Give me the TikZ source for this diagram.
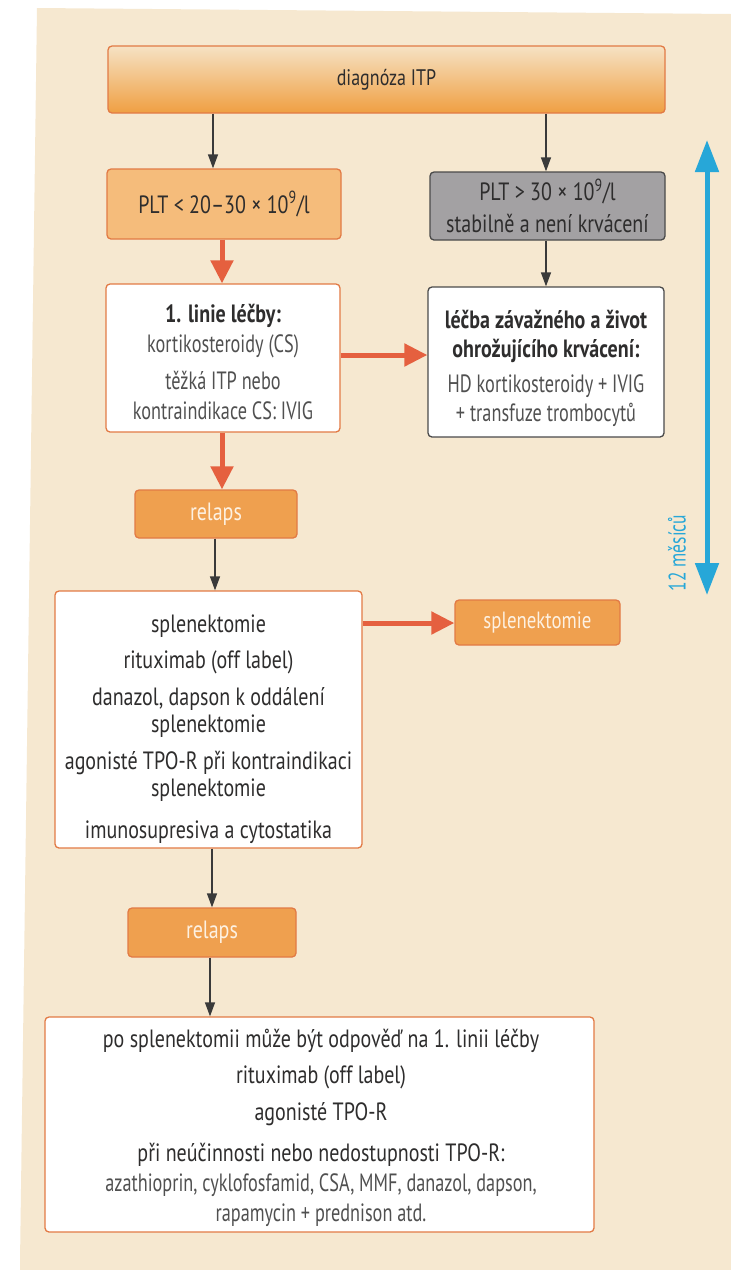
\documentclass[tikz,border=0pt]{standalone}
\usepackage{fontspec}
\setmainfont{PT Sans}[FakeStretch=0.8]
\newfontfamily\lightfont{PT Sans}[FakeStretch=0.73]
\usetikzlibrary{arrows.meta}
\definecolor{bg}{HTML}{F6E8D0}
\definecolor{orfill}{HTML}{EFA04F}
\definecolor{orborder}{HTML}{E27A45}
\definecolor{pltfill}{HTML}{F5BC7B}
\definecolor{grayfill}{HTML}{A3A1A3}
\definecolor{grayborder}{HTML}{4A4A4A}
\definecolor{redarr}{HTML}{E5603F}
\definecolor{arrgray}{HTML}{3A3A3A}
\definecolor{txt}{HTML}{2E2D2D}
\definecolor{lt}{HTML}{505050}
\definecolor{wtxt}{HTML}{FDF1E2}
\definecolor{blu}{HTML}{27A7D8}
\definecolor{gradtop}{HTML}{F6E2C4}
\definecolor{gradbot}{HTML}{EF9F42}
\newcommand{\lt}[1]{{\lightfont\color{lt}#1}}
\tikzset{
  box/.style={rectangle, rounded corners=4pt, line width=1.3pt, align=center, inner sep=0pt, text=txt,
    font=\fontsize{25}{30}\selectfont},
  txtnode/.style={align=center, inner sep=0pt, text=txt, font=\fontsize{25}{30}\selectfont},
  orbox/.style={box, fill=orfill, draw=orborder, text=wtxt},
  whbox/.style={box, fill=white, draw=orborder},
  grbox/.style={box, fill=grayfill, draw=grayborder},
  wgbox/.style={box, fill=white, draw=grayborder},
  plbox/.style={box, fill=pltfill, draw=orborder},
  grayarrow/.style={draw=arrgray, line width=1.3pt, -{Triangle[width=10pt,length=14pt]}},
  redarrow/.style={draw=redarr, line width=5pt, -{Triangle[width=22pt,length=23pt]}},
  bluearrow/.style={draw=blu, line width=5pt, {Triangle[width=23pt,length=32pt]}-{Triangle[width=23pt,length=32pt]}}
}
\begin{document}
\begin{tikzpicture}[x=1pt,y=-1pt]
\useasboundingbox (0,0) rectangle (731,1270);
\fill[white] (0,0) rectangle (731,1270);
\fill[bg] (37,8) -- (731,14) -- (731,1270) -- (20,1270) -- (20,1263) -- cycle;

% top
\node[box, top color=gradtop, bottom color=gradbot, draw=orborder, minimum width=557pt, minimum height=67pt,
  font=\fontsize{22.5}{27}\selectfont] (diag) at (386.5,79.5) {diagnóza ITP};

% PLT boxes
\node[plbox, minimum width=234pt, minimum height=70pt] (low) at (224,204) {PLT < 20–30 × 10\textsuperscript{9}/l};
\node[grbox, minimum width=235pt, minimum height=68pt, font=\fontsize{25}{32}\selectfont] (high) at (547.5,206) {PLT > 30 × 10\textsuperscript{9}/l\\stabilně a není krvácení};

% first line of treatment
\node[whbox, minimum width=234pt, minimum height=148pt] (first) at (223,358) {};
\node[txtnode] (firsttxt) at (223,361.5)
  {\textbf{1. linie léčby:}\\\lt{kortikosteroidy (CS)}\\[7pt]\lt{těžká ITP nebo}\\\lt{kontraindikace CS: IVIG}};

\node[wgbox, minimum width=236pt, minimum height=150pt] (sev) at (546,362) {};
\node[txtnode, font=\fontsize{25}{29}\selectfont] (sevtxt) at (546,368)
  {\textbf{léčba závažného a život}\\\textbf{ohrožujícího krvácení:}\\[6pt]\lt{HD kortikosteroidy + IVIG}\\\lt{+ transfuze trombocytů}};

\node[orbox, minimum width=162pt, minimum height=48pt] (rel1) at (216,514) {relaps};

% second line
\node[whbox, minimum width=307pt, minimum height=257pt] (second) at (208.5,719.5) {};
\node[txtnode, font=\fontsize{25}{27}\selectfont] (secondtxt) at (208.5,729)
  {splenektomie\\[9pt]rituximab (off label)\\[10pt]danazol, dapson k oddálení\\splenektomie\\[10pt]agonisté TPO-R při kontraindikaci\\splenektomie\\[15pt]imunosupresiva a cytostatika};

\node[orbox, minimum width=165pt, minimum height=45pt, font=\fontsize{23.5}{28}\selectfont] (splen) at (537.5,622.5) {splenektomie};

\node[orbox, minimum width=168pt, minimum height=49pt] (rel2) at (212,932.5) {relaps};

% third line
\node[whbox, minimum width=549pt, minimum height=215pt] (third) at (319.5,1124.5) {};
\node[txtnode] (thirdtxt) at (321,1128)
  {po splenektomii může být odpověď na 1. linii léčby\\[6pt]rituximab (off label)\\[7pt]agonisté TPO-R\\[11pt]při neúčinnosti nebo nedostupnosti TPO-R:\\\lt{azathioprin, cyklofosfamid, CSA, MMF, danazol, dapson,}\\\lt{rapamycin + prednison atd.}};

% connectors
\draw[grayarrow] (diag.south -| 213,0) -- (low.north -| 213,0);
\draw[grayarrow] (diag.south -| 546,0) -- (high.north -| 546,0);
\draw[redarrow] (low.south -| 222,0) -- (first.north -| 222,0);
\draw[grayarrow] (high.south -| 546,0) -- (sev.north -| 546,0);
\draw[redarrow] (first.east |- 0,355) -- (sev.west |- 0,355);
\draw[redarrow] (first.south -| 222,0) -- (rel1.north -| 222,0);
\draw[grayarrow] (rel1.south -| 215,0) -- (second.north -| 215,0);
\draw[redarrow] (second.east |- 0,623) -- (splen.west |- 0,623);
\draw[grayarrow] (second.south -| 212,0) -- (rel2.north -| 212,0);
\draw[grayarrow] (rel2.south -| 210,0) -- (third.north -| 210,0);

% 12 months
\coordinate (btop) at (707,140);
\coordinate (bbot) at (707,595);
\draw[bluearrow] (btop) -- (bbot);
\node[text=blu, rotate=90, font=\lightfont\fontsize{24}{28}\selectfont, inner sep=0pt] (months) at (677,553) {12 měsíců};
\end{tikzpicture}
\end{document}
